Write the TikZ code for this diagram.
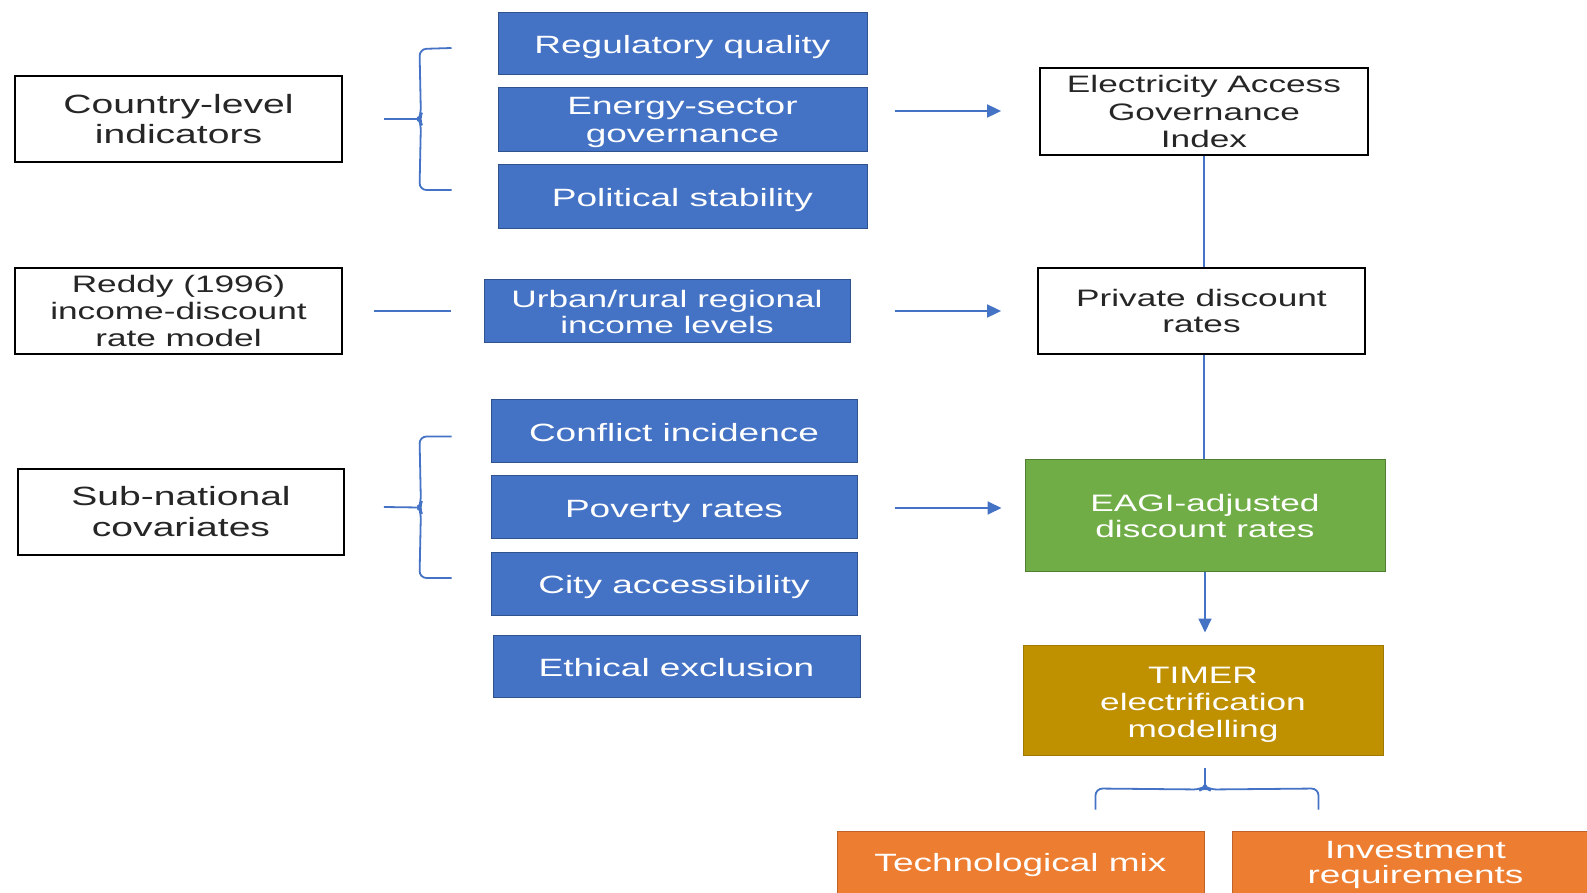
\documentclass[tikz,border=0pt]{standalone}
\usepackage{fontspec}
\setmainfont{Liberation Sans}[FakeStretch=1.48]
\usetikzlibrary{arrows.meta,calc}

\definecolor{txtdark}{HTML}{262626}
\definecolor{ofblue}{HTML}{4472C4}
\definecolor{ofblueline}{HTML}{2F528F}
\definecolor{ofgreen}{HTML}{70AD47}
\definecolor{ofgreenline}{HTML}{507E32}
\definecolor{ofgold}{HTML}{BF9000}
\definecolor{ofgoldline}{HTML}{A07A00}
\definecolor{oforange}{HTML}{ED7D31}
\definecolor{oforangeline}{HTML}{C0632A}
\definecolor{linkblue}{HTML}{4472C4}

% invisible strut that lowers the first line of a stacked label
\newcommand{\toppad}[1]{\rule{0pt}{#1}}

\tikzset{
  base/.style={align=center, inner sep=0pt, text=white,
    font=\fontsize{12.5}{14}\selectfont},
  oneline/.style={text height=10pt, text depth=0pt},
  small/.style={font=\fontsize{11.9}{#1}\selectfont},
  large/.style={font=\fontsize{13.2}{#1}\selectfont},
  whitebox/.style={base, draw=black, fill=white, text=txtdark, line width=0.9pt},
  bluebox/.style={base, fill=ofblue, draw=ofblueline, line width=0.5pt},
  greenbox/.style={base, fill=ofgreen, draw=ofgreenline, line width=0.5pt},
  goldbox/.style={base, fill=ofgold, draw=ofgoldline, line width=0.5pt},
  orangebox/.style={base, fill=oforange, draw=oforangeline, line width=0.5pt},
  link/.style={draw=linkblue, line width=0.9pt},
  arr/.style={link, -{Triangle[length=7pt,width=6.5pt]}},
  bracket/.style={link, rounded corners=3.5pt},
}

\begin{document}
\begin{tikzpicture}[x=0.5pt, y=-0.5pt]
  \useasboundingbox (0,0) rectangle (1587,893);
  \clip (0,0) rectangle (1587,893);

  % left column: sources
  \node[whitebox, large=15, minimum width=163.5pt, minimum height=43pt] (country) at (178.5,119)
        {Country-level\\indicators};
  \node[whitebox, small=13.5, minimum width=163.5pt, minimum height=43pt] (reddy) at (178.5,311)
        {Reddy (1996)\\income-discount\\rate model};
  \node[whitebox, large=15.5, minimum width=163pt, minimum height=43pt] (subnat) at (181,512)
        {Sub-national\\covariates};

  % middle column: indicators
  \node[bluebox, oneline, minimum width=184.5pt, minimum height=31pt] (reg) at (682.5,44) {Regulatory quality};
  \node[bluebox, minimum width=184.5pt, minimum height=32pt] (energy) at (682.5,120) {\toppad{11pt}Energy-sector\\governance};
  \node[bluebox, oneline, minimum width=184.5pt, minimum height=32pt] (polit) at (682.5,197) {Political stability};
  \node[bluebox, small=13, minimum width=183pt, minimum height=31.5pt] (urban) at (667,311.5) {Urban/rural regional\\income levels};
  \node[bluebox, oneline, minimum width=183pt, minimum height=31.5pt] (conflict) at (674,431.5) {Conflict incidence};
  \node[bluebox, oneline, minimum width=183pt, minimum height=31.5pt] (poverty) at (674,507.5) {Poverty rates};
  \node[bluebox, oneline, minimum width=183pt, minimum height=31pt] (city) at (674,584) {City accessibility};
  \node[bluebox, oneline, minimum width=183.5pt, minimum height=31pt] (ethical) at (676.5,666) {Ethical exclusion};

  % right column: outputs
  \node[whitebox, small=13.8, minimum width=164pt, minimum height=43.5pt] (index) at (1204,111.5)
        {Electricity Access\\Governance\\Index};
  \node[whitebox, small=13, minimum width=163.5pt, minimum height=43pt] (private) at (1201.5,311)
        {Private discount\\rates};
  \node[greenbox, small=13, minimum width=180pt, minimum height=55.5pt] (eagi) at (1205,515.5)
        {EAGI-adjusted\\discount rates};
  \node[goldbox, small=13.5, minimum width=180pt, minimum height=55pt] (timer) at (1203,700)
        {\toppad{12.5pt}TIMER\\electrification\\modelling};
  \node[orangebox, minimum width=183.5pt, minimum height=34pt] (tech) at (1020.5,865) {\raisebox{1.5pt}{Technological mix}};
  \node[orangebox, minimum width=183.5pt, minimum height=34pt,
        font=\fontsize{12.5}{13.8}\selectfont] (invest) at (1415.5,865)
        {\raisebox{1.5pt}{\shortstack{Investment\\requirements}}};

  % bracket joining the country-level indicators
  \coordinate (b1t) at ($(reg.west)+(-46,4)$);
  \coordinate (b1b) at ($(polit.west)+(-46,-7)$);
  \coordinate (b1m) at ($(country.east |- energy.west)+(76,-1)$);
  \draw[bracket] (b1t) -- ++(-32,1) -- ($(b1m)+(2,-4)$) -- (b1m) -- ($(b1m)+(2,4)$) -- ($(b1b)+(-32,0)$) -- (b1b);
  \draw[link] ($(country.east)+(41,0)$) -- (b1m);

  % bracket joining the sub-national covariates
  \coordinate (b2t) at ($(conflict.west)+(-39,5)$);
  \coordinate (b2b) at ($(city.west)+(-39,-6)$);
  \coordinate (b2m) at ($(subnat.east |- poverty.west)+(74,0)$);
  \draw[bracket] (b2t) -- ++(-32,0) -- ($(b2m)+(2,-4)$) -- (b2m) -- ($(b2m)+(2,4)$) -- ($(b2b)+(-32,0)$) -- (b2b);
  \draw[link] ($(subnat.east)+(39,-5)$) -- (b2m);

  % income model link
  \draw[link] ($(reddy.east)+(31,0)$) -- ($(urban.west)+(-33,-0.5)$);

  % arrows into the right column
  \draw[arr] ($(energy.east |- index.west)+(27,-0.5)$) -- ($(index.west)+(-38,-0.5)$);
  \draw[arr] ($(urban.east |- private.west)+(44,0)$) -- ($(private.west)+(-36,0)$);
  \draw[arr] ($(poverty.east)+(37,0.5)$) -- ($(eagi.west |- poverty.east)+(-23,0.5)$);

  % vertical chain
  \draw[link] (index.south) -- (index.south |- private.north);
  \draw[link] (index.south |- private.south) -- (index.south |- eagi.north);
  \draw[arr] (eagi.south) -- ($(eagi.south |- timer.north)+(0,-12)$);

  % bracket splitting the model outputs
  \coordinate (b3m) at ($(timer.south)+(2,34)$);
  \draw[link] ($(timer.south)+(2,12)$) -- (b3m);
  \draw[bracket] ($(tech.north)+(75,-21)$) -- ($(tech.north)+(75,-42)$) -- ($(b3m)+(-4,0)$) -- ($(b3m)+(0,-3)$) -- ($(b3m)+(4,0)$) -- ($(invest.north)+(-97,-42)$) -- ($(invest.north)+(-97,-21)$);
\end{tikzpicture}
\end{document}
